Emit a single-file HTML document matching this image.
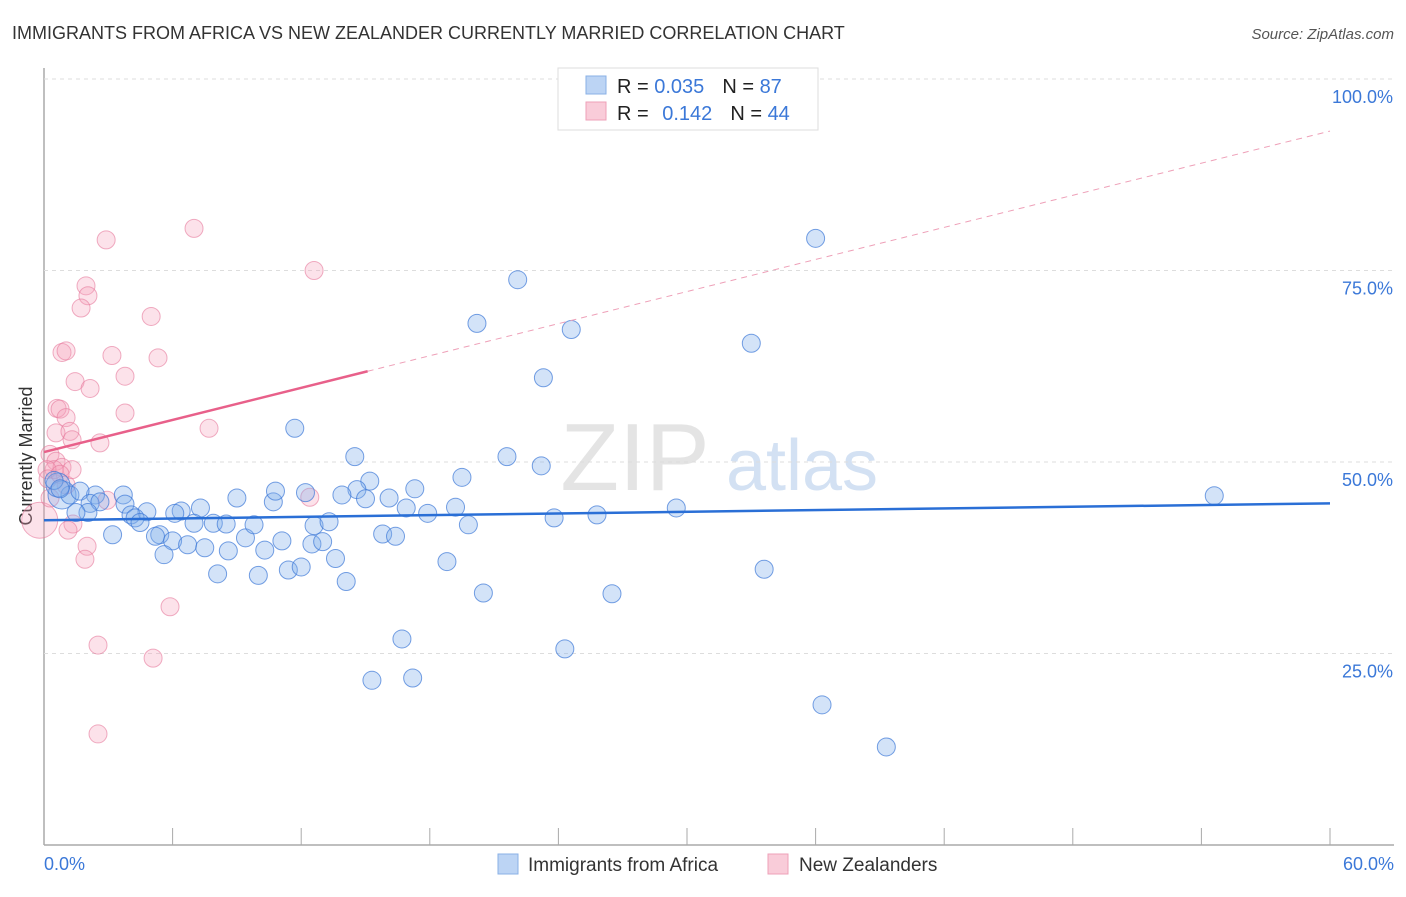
<!DOCTYPE html>
<html><head><meta charset="utf-8"><style>
body{margin:0;background:#fff;font-family:"Liberation Sans",sans-serif;}
svg text{font-family:"Liberation Sans",sans-serif;}
</style></head><body>
<svg id="chart" width="1406" height="892">
<text x="12" y="39" font-size="18" fill="#333">IMMIGRANTS FROM AFRICA VS NEW ZEALANDER CURRENTLY MARRIED CORRELATION CHART</text>
<text x="1394" y="39" font-size="15" fill="#555" font-style="italic" text-anchor="end">Source: ZipAtlas.com</text>
<text x="32" y="456" font-size="18" fill="#333" transform="rotate(-90 32 456)" text-anchor="middle">Currently Married</text>
<g><text x="635" y="490" font-size="96" fill="#e4e4e4" font-family="Liberation Serif" text-anchor="middle">ZIP</text><text x="802" y="490" font-size="72" fill="#d3e1f3" text-anchor="middle">atlas</text></g>
<g id="grid"></g><g id="marks"></g>
<g>
<rect x="558" y="68" width="260" height="62" fill="#fff" stroke="#ddd"/>
<rect x="586" y="76" width="20" height="18" fill="#bcd4f4" stroke="#8ab0e6"/>
<rect x="586" y="102" width="20" height="18" fill="#f9ccd9" stroke="#eea0b8"/>
<text x="617" y="93" font-size="20" fill="#222">R = <tspan fill="#3b78d8">0.035</tspan><tspan dx="18">N = </tspan><tspan fill="#3b78d8">87</tspan></text>
<text x="617" y="120" font-size="20" fill="#222">R = <tspan dx="8" fill="#3b78d8">0.142</tspan><tspan dx="18">N = </tspan><tspan fill="#3b78d8">44</tspan></text>
</g>
<g>
<rect x="498" y="854" width="20" height="20" fill="#bcd4f4" stroke="#8ab0e6"/>
<text x="528" y="871" font-size="19" fill="#333">Immigrants from Africa</text>
<rect x="768" y="854" width="20" height="20" fill="#f9ccd9" stroke="#eea0b8"/>
<text x="799" y="871" font-size="19" fill="#333">New Zealanders</text>
</g>
</svg>
<script>
const yTicks=[25,50,75,100];
const xTickLabels=["0.0%","60.0%"];
const africaX=[36.0,22.1,20.2,24.6,33.0,23.3,11.7,14.5,21.6,23.2,19.5,15.2,54.6,9.0,10.7,12.2,14.6,16.1,17.3,16.9,19.2,15.0,13.9,17.9,19.8,23.8,25.8,29.5,12.6,13.3,10.8,7.3,6.4,6.1,4.8,3.7,2.4,3.2,5.4,5.2,6.0,6.7,7.0,7.9,8.5,9.4,9.8,10.3,11.1,12.5,13.0,13.6,7.5,8.6,5.6,8.1,10.0,11.4,12.0,14.1,15.8,16.4,18.8,20.5,26.5,33.6,16.7,24.3,15.3,17.2,36.3,39.3,0.84,1.21,1.68,2.15,3.78,4.06,4.25,4.48,2.61,2.05,1.49,0.65,0.47,0.75];
const africaY=[79.2,73.8,68.1,67.3,65.5,61.0,54.4,50.7,50.7,49.5,48.0,47.5,45.6,45.3,44.8,46.0,46.4,45.3,46.5,44.0,44.1,45.2,45.7,43.3,41.8,42.7,43.1,44.0,41.7,42.2,46.2,44.0,43.6,43.3,43.5,45.7,45.7,40.5,40.5,40.3,39.7,39.2,42.0,42.0,41.9,40.1,41.8,38.5,39.7,39.3,39.6,37.4,38.8,38.4,37.9,35.4,35.2,35.9,36.3,34.4,40.6,40.3,37.0,32.9,32.8,36.0,26.9,25.6,21.5,21.8,18.3,12.8,45.7,45.7,46.2,44.6,44.5,43.1,42.7,42.1,44.8,43.4,43.4,47.0,47.6,46.5];
const africaR=[9,9,9,9,9,9,9,9,9,9,9,9,9,9,9,9,9,9,9,9,9,9,9,9,9,9,9,9,9,9,9,9,9,9,9,9,9,9,9,9,9,9,9,9,9,9,9,9,9,9,9,9,9,9,9,9,9,9,9,9,9,9,9,9,9,9,9,9,9,9,9,9,14,9,9,9,9,9,9,9,9,9,9,12,9,9];
const nzX=[7.0,2.9,12.6,1.96,2.05,1.73,5.0,0.84,1.03,3.17,5.32,3.78,1.45,2.15,3.78,0.61,0.75,1.03,0.56,1.21,1.31,7.7,2.61,0.28,0.56,0.84,0.47,0.14,12.4,2.94,1.35,1.12,2.01,1.91,5.88,2.52,5.09,2.52,-0.2,1.03,1.31,0.19,0.28,0.75];
const nzY=[80.5,79.0,75.0,73.0,71.7,70.1,69.0,64.3,64.5,63.9,63.6,61.2,60.5,59.6,56.4,57.0,56.9,55.8,53.8,54.0,52.9,54.4,52.5,51.0,50.1,49.3,49.0,49.0,45.4,45.0,41.9,41.1,39.0,37.3,31.1,26.1,24.4,14.5,42.4,47.0,49.0,47.8,45.3,48.4];
const nzR=[9,9,9,9,9,9,9,9,9,9,9,9,9,9,9,9,9,9,9,9,9,9,9,9,9,9,9,9,9,9,9,9,9,9,9,9,9,9,18,9,9,9,9,9];
const africaTrend=[42.4,44.6];
const nzTrend=[51.3,93.2];
const nzSolidEnd=15.1;
const X=v=>44+v*(1330-44)/60, Y=v=>845-v*7.66;
const NS="http://www.w3.org/2000/svg";
const grid=document.getElementById('grid'), marks=document.getElementById('marks');
function mk(tag,at,parent){const e=document.createElementNS(NS,tag);for(const k in at)e.setAttribute(k,at[k]);parent.appendChild(e);return e;}
let ax=mk('line',{x1:44,y1:68,x2:44,y2:845,stroke:'#aaa','stroke-width':1.5},grid);


let bx=mk('line',{x1:44,y1:845,x2:1394,y2:845,stroke:'#aaa','stroke-width':1.5},grid);


for(let i=1;i<=10;i++){let t=mk('line',{x1:X(i*6),x2:X(i*6),y1:828,y2:845,stroke:'#aaa'},grid);

}
yTicks.forEach(v=>{let g=mk('line',{x1:44,x2:1394,y1:Y(v),y2:Y(v),stroke:'#ddd','stroke-dasharray':'4,4'},grid);


let t=mk('text',{x:1393,y:Y(v)+24,'font-size':18,fill:'#3b78d8','text-anchor':'end'},grid);t.textContent=v.toFixed(1)+'%';

});
[[0,'start',44],[60,'end',1394]].forEach((a,i)=>{let t=mk('text',{x:a[2],y:870,'font-size':18,fill:'#3b78d8','text-anchor':a[1]},grid);t.textContent=xTickLabels[i];

});
nzX.forEach((v,i)=>{let c=mk('circle',{cx:X(v),cy:Y(nzY[i]),r:nzR[i],fill:'rgba(244,160,185,0.3)',stroke:'rgba(230,120,155,0.6)','stroke-width':1},marks);

});
africaX.forEach((v,i)=>{let c=mk('circle',{cx:X(v),cy:Y(africaY[i]),r:africaR[i],fill:'rgba(130,175,235,0.35)',stroke:'rgba(60,120,215,0.7)','stroke-width':1},marks);

});
let l1=mk('line',{x1:X(0),y1:Y(africaTrend[0]),x2:X(60),y2:Y(africaTrend[1]),stroke:'#2a6fd6','stroke-width':2.5},marks);


const nzAt=x=>nzTrend[0]+(nzTrend[1]-nzTrend[0])*x/60;
let l2=mk('line',{x1:X(0),y1:Y(nzTrend[0]),x2:X(nzSolidEnd),y2:Y(nzAt(nzSolidEnd)),stroke:'#e8608a','stroke-width':2.5},marks);


let l3=mk('line',{x1:X(nzSolidEnd),y1:Y(nzAt(nzSolidEnd)),x2:X(60),y2:Y(nzTrend[1]),stroke:'#eea0b8','stroke-width':1,'stroke-dasharray':'6,5'},marks);


</script>
</body></html>
